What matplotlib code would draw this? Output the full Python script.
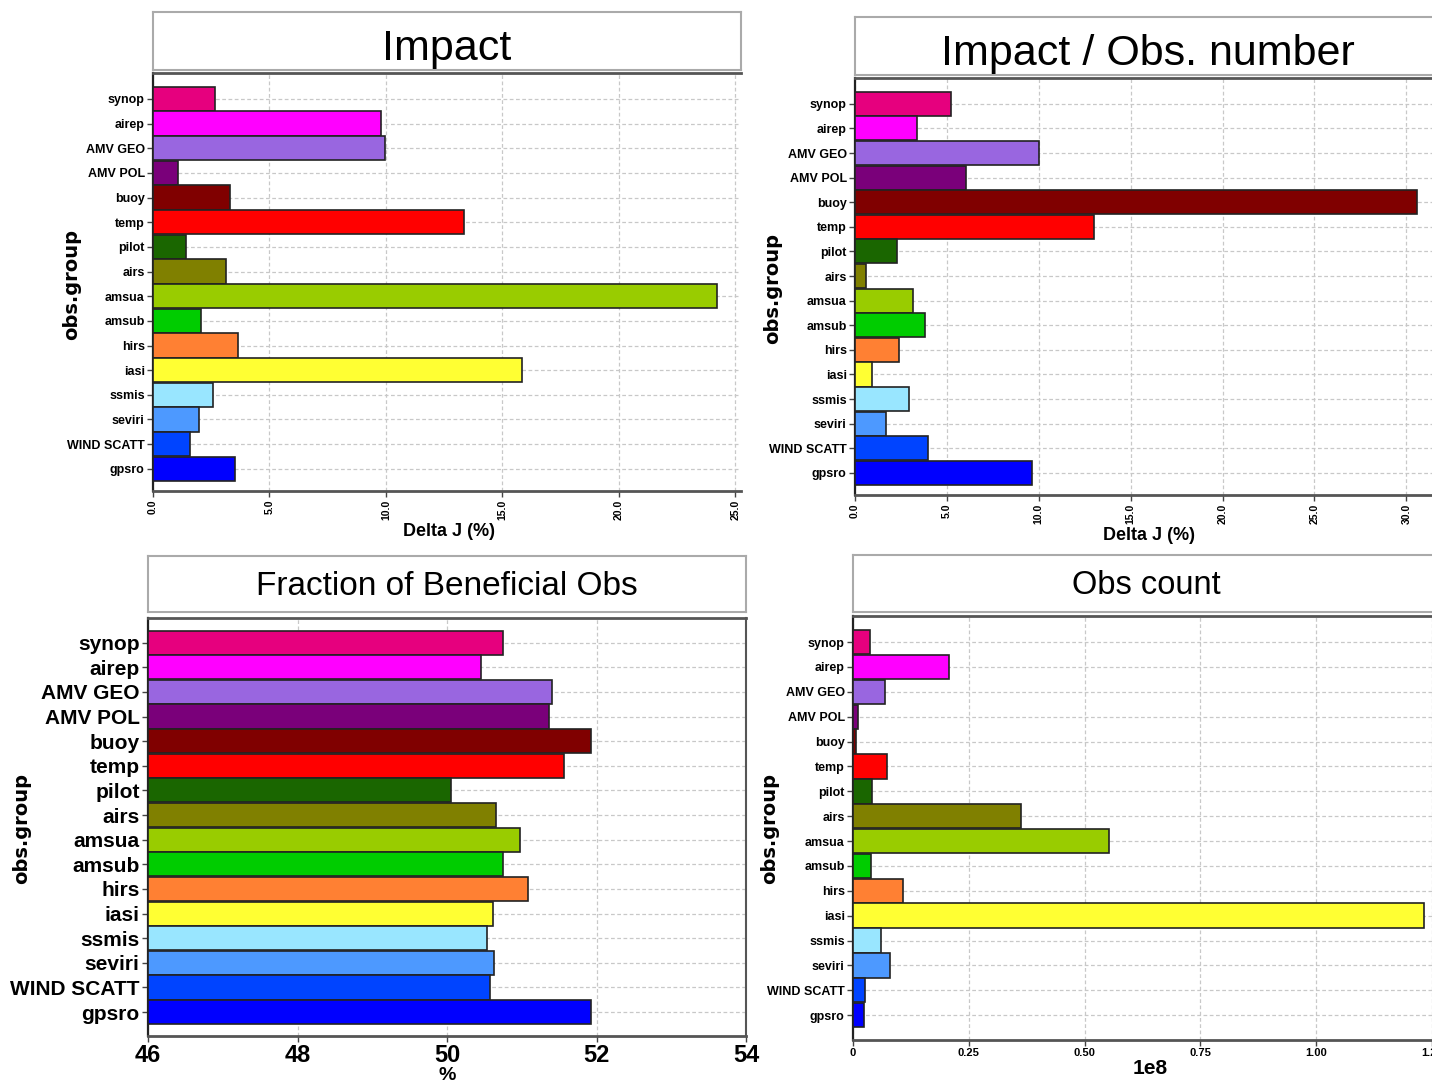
import matplotlib
matplotlib.use("Agg")
import matplotlib.pyplot as plt
from matplotlib import font_manager

W, H = 1432, 1084

groups = ["synop", "airep", "AMV GEO", "AMV POL", "buoy", "temp", "pilot", "airs",
          "amsua", "amsub", "hirs", "iasi", "ssmis", "seviri", "WIND SCATT", "gpsro"]
colors = ["#E6007E", "#FF00FF", "#9966E0", "#7A007A", "#800000", "#FF0000", "#1A6600",
          "#808000", "#99CC00", "#00CC00", "#FF8033", "#FFFF33", "#99E6FF", "#4D99FF",
          "#0044FF", "#0000FF"]

impact = [2.66, 9.79, 9.96, 1.07, 3.30, 13.35, 1.42, 3.13,
          24.2, 2.06, 3.65, 15.84, 2.58, 1.97, 1.59, 3.52]
impact_per_obs = [5.23, 3.38, 10.0, 6.04, 30.6, 13.0, 2.29, 0.60,
                  3.16, 3.81, 2.40, 0.93, 2.94, 1.69, 3.97, 9.64]
frac_beneficial = [50.75, 50.46, 51.41, 51.37, 51.92, 51.56, 50.05, 50.66,
                   50.97, 50.75, 51.08, 50.61, 50.54, 50.63, 50.57, 51.92]
obs_count = [0.037, 0.207, 0.070, 0.011, 0.0065, 0.074, 0.041, 0.363,
             0.552, 0.039, 0.107, 1.233, 0.061, 0.080, 0.026, 0.024]  # x 1e8

names = {f.name for f in font_manager.fontManager.ttflist}
narrow = "Liberation Sans Narrow" if "Liberation Sans Narrow" in names else "Liberation Sans"


def box(l, t, r, b):
    return [l / W, 1 - b / H, (r - l) / W, (b - t) / H]


fig = plt.figure(figsize=(W / 100, H / 100), dpi=100)


def title_box(l, t, r, b, text, size, ty):
    tb = fig.add_axes(box(l, t, r, b))
    tb.set_xticks([])
    tb.set_yticks([])
    for s in tb.spines.values():
        s.set_color("#aaaaaa")
        s.set_linewidth(1.5)
    tb.text(0.5, ty, text, ha="center", va="center", fontsize=size,
            family=narrow, transform=tb.transAxes)


def panel(rect, vals, xlim, ylim, xticks, xlabels, tsize, ysize, rot, right_spine):
    ax = fig.add_axes(box(*rect))
    ax.barh(range(len(groups)), vals, height=0.98, color=colors,
            edgecolor="#222222", linewidth=1.2, zorder=3, left=xlim[0])
    ax.set_xlim(*xlim)
    ax.set_ylim(*ylim)
    ax.set_yticks(range(len(groups)))
    ax.set_yticklabels(groups, fontsize=ysize, fontweight="bold", family=narrow)
    ax.set_xticks(xticks)
    ax.set_xticklabels(xlabels, fontsize=tsize, fontweight="bold", rotation=rot,
                       family=narrow)
    ax.grid(True, color="#c8c8c8", linestyle=(0, (3, 2)), linewidth=0.9, zorder=0)
    ax.tick_params(axis="both", length=4, width=1, color="#444444", pad=2)
    ax.spines["left"].set_color("#222222")
    ax.spines["left"].set_linewidth(1.6)
    for s in ("top", "bottom"):
        ax.spines[s].set_color("#555555")
        ax.spines[s].set_linewidth(2.0)
    ax.spines["right"].set_visible(right_spine)
    ax.spines["right"].set_color("#555555")
    ax.spines["right"].set_linewidth(1.5)
    return ax


def labels(ax, xl, xpos, xsize, ypos):
    ax.set_xlabel(xl, fontsize=xsize, fontweight="bold", family=narrow)
    ax.xaxis.set_label_coords(xpos[0] / W, 1 - xpos[1] / H, transform=fig.transFigure)
    ax.xaxis.label.set_va("center")
    ax.set_ylabel("obs.group", fontsize=14, fontweight="bold", family="DejaVu Sans")
    ax.yaxis.set_label_coords(ypos[0] / W, 1 - ypos[1] / H, transform=fig.transFigure)
    ax.yaxis.label.set_va("center")


# Impact
title_box(153, 12, 741, 70, "Impact", 31, 0.36)
a1 = panel((153, 73, 741, 491), impact, (0, 25.24), (15.9, -1.05),
           [0, 5, 10, 15, 20, 25], ["0.0", "5.0", "10.0", "15.0", "20.0", "25.0"],
           7.5, 9, 90, False)
labels(a1, "Delta J (%)", (449, 532), 13, (72, 285))

# Impact / Obs. number
title_box(855, 17, 1440, 75, "Impact / Obs. number", 31, 0.36)
a2 = panel((855, 78, 1432, 495), impact_per_obs, (0, 31.4), (15.9, -1.05),
           [0, 5, 10, 15, 20, 25, 30],
           ["0.0", "5.0", "10.0", "15.0", "20.0", "25.0", "30.0"],
           7.5, 9, 90, False)
labels(a2, "Delta J (%)", (1149, 536), 13, (773, 288))

# Fraction of Beneficial Obs
title_box(148, 556, 746, 612, "Fraction of Beneficial Obs", 24, 0.46)
frac_width = [v - 46 for v in frac_beneficial]
a3 = panel((148, 618, 746, 1036), frac_width, (46, 54), (15.97, -1.0),
           [46, 48, 50, 52, 54], ["46", "48", "50", "52", "54"],
           17, 15, 0, True)
labels(a3, "%", (447, 1076), 14, (22, 828))

# Obs count
title_box(853, 555, 1440, 612, "Obs count", 23.5, 0.47)
a4 = panel((853, 616, 1432, 1040), obs_count, (0, 1.2435), (16.0, -1.05),
           [0, 0.25, 0.5, 0.75, 1.0, 1.25], ["0", "0.25", "0.50", "0.75", "1.00", "1.25"],
           8, 9, 0, False)
labels(a4, "1e8", (1150, 1068), 15, (770, 828))

fig.savefig("out.png", dpi=100)
